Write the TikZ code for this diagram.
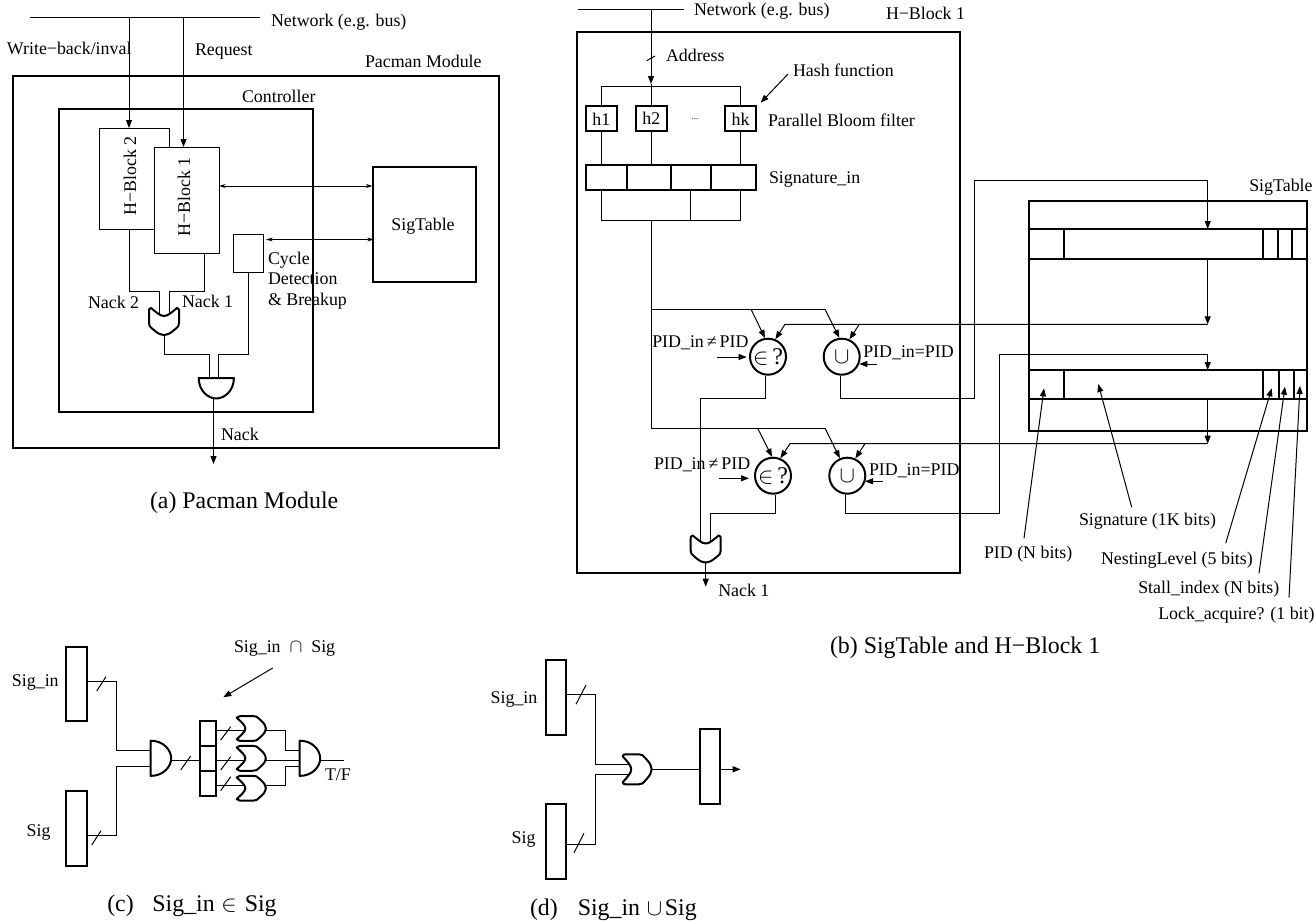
\documentclass[tikz,border=0pt]{standalone}
\usepackage{fontspec}
\setmainfont{Liberation Serif}
\usetikzlibrary{arrows.meta}
\newcommand{\pxbox}[6]{\node[#1,anchor=north west,inner sep=0pt,outer sep=0pt,minimum width={(#5-#3)*0.75pt},minimum height={(#6-#4)*0.75pt}] (#2) at (#3,#4) {};}
\tikzset{
  wire/.style={line width=0.75pt,line join=miter},
  arr/.style={wire,-{Stealth[length=6pt,width=4.5pt,inset=0pt]}},
  darr/.style={wire,{Stealth[open,length=5pt,width=3pt]}-{Stealth[open,length=5pt,width=3pt]}},
  thinbox/.style={draw,line width=0.75pt},
  thickbox/.style={draw,line width=1.5pt},
  whitebox/.style={draw,line width=0.75pt,fill=white},
  lab/.style={inner sep=0pt,outer sep=0pt,font=\fontsize{13.4}{16}\selectfont},
  captxt/.style={inner sep=0pt,outer sep=0pt,font=\fontsize{17.9}{22}\selectfont},
  opcircle/.style={circle,draw,line width=1.5pt,inner sep=0pt,minimum size=27pt,font=\fontsize{18}{20}\selectfont},
  gate/.style={line width=1.5pt,line join=round,fill=white},
  orgate/.pic={
    \draw[gate] (-15,3) -- (-15,15) .. controls (-15,18) .. (-9,23) .. controls (-5,26) .. (0,27) .. controls (5,26) .. (9,23) .. controls (15,18) .. (15,15) -- (15,3) .. controls (15,1) .. (13,0) .. controls (8,4) and (4,8) .. (0,8) .. controls (-4,8) and (-8,4) .. (-13,0) .. controls (-15,1) .. (-15,3) -- cycle;
    \coordinate (-a) at (-5,6);
    \coordinate (-b) at (5,6);
    \coordinate (-c) at (0,8);
    \coordinate (-out) at (0,27);
  },
  andgate/.pic={
    \draw[gate] (-17.6,0) -- (17.6,0) .. controls (17.6,13) and (8,20.5) .. (0,20.5) .. controls (-8,20.5) and (-17.6,13) .. (-17.6,0) -- cycle;
    \coordinate (-top) at (0,0);
    \coordinate (-out) at (0,20.5);
  }
}
\begin{document}
\begin{tikzpicture}[x=0.75pt,y=-0.75pt]
\useasboundingbox (0,0) rectangle (1315,921);

%% ---------- panel (a) ----------
\coordinate (netaL) at (30,17);
\coordinate (netaR) at (260,17);
\draw[wire] (netaL) -- (netaR);
\node[lab,anchor=west] (neta) at (271,22) {Network (e.g. bus)};
\node[lab,anchor=west] (wb) at (7,48) {Write−back/inval};
\node[lab,anchor=west] (req) at (195,51.5) {Request};
\node[lab,anchor=west] (pacl) at (365,61) {Pacman Module};
\node[lab,anchor=west] (ctll) at (242,96) {Controller};
\pxbox{thickbox}{pacman}{13}{76}{499}{448}
\pxbox{thickbox}{ctrl}{59}{109}{313}{412}
\pxbox{thinbox}{hbtwo}{99.5}{128}{169}{229}
\pxbox{whitebox}{hbone}{154}{147}{219}{253}
\node[lab,rotate=90] (hbtwol) at (130,176) {H−Block 2};
\node[lab,rotate=90] (hbonel) at (184,197) {H−Block 1};
\pxbox{thickbox}{sigt}{372.5}{167}{476}{282}
\node[lab] (sigtl) at (423,226) {SigTable};
\pxbox{thinbox}{cyc}{233.5}{234}{263.5}{272}
\node[lab,anchor=west] (cy1) at (268,260) {Cycle};
\node[lab,anchor=west] (cy2) at (268,279) {Detection};
\node[lab,anchor=west] (cy3) at (268,301) {\&\ Breakup};
\node[lab,anchor=west] (na2) at (88,302) {Nack 2};
\node[lab,anchor=west] (na1) at (182,301) {Nack 1};
\node[lab,anchor=west] (nack) at (221,434) {Nack};
\node[captxt,anchor=west] (capa) at (150,502.5) {(a) Pacman Module};
\pic (ora) at (164,308) {orgate};
\pic (anda) at (216.3,378) {andgate};
\draw[arr] (129,17) -- (129,0 |- hbtwo.north);
\draw[arr] (183.5,17) -- (183.5,0 |- hbone.north);
\draw[darr] (hbone.east |- 0,186) -- (sigt.west |- 0,186);
\draw[darr] (266,239.5) -- (374,239.5);
\draw[wire] (129.5,0 |- hbtwo.south) |- (159,291) -- (ora-a);
\draw[wire] (204,0 |- hbone.south) |- (169,291) -- (ora-b);
\draw[wire] (ora-out) |- (209,354) -- (209,0 |- anda-top);
\draw[wire] (cyc.south) |- (218.5,354) -- (218.5,0 |- anda-top);
\draw[arr] (213.5,0 |- anda-out) -- (213.5,464);

%% ---------- panel (b) ----------
\draw[wire] (578,9) -- (684,9);
\node[lab,anchor=west] (netb) at (694,11) {Network (e.g. bus)};
\node[lab,anchor=west] (hbt) at (886,13.5) {H−Block 1};
\pxbox{thickbox}{hblock}{577}{31.5}{959.5}{572.7}
\node[lab,anchor=west] (addr) at (666,55) {Address};
\node[lab,anchor=west] (hash) at (793,70) {Hash function};
\node[lab,anchor=west] (bloom) at (768,120) {Parallel Bloom filter};
\node[lab,anchor=west] (signin) at (769,179.5) {Signature\_in};
\pxbox{thickbox}{hone}{586}{105.7}{616.7}{130.7}
\pxbox{thickbox}{htwo}{636}{105.7}{666.7}{130.7}
\pxbox{thickbox}{hk}{725.3}{105.7}{756}{130.7}
\node[lab] (honet) at ([yshift=-1pt]hone.center) {h1};
\node[lab] (htwot) at (htwo.center) {h2};
\node[lab] (hkt) at ([yshift=-0.5pt]hk.center) {hk};
\node[inner sep=0pt,font=\fontsize{7}{8}\selectfont] (dots) at (695,119) {...};
\pxbox{thickbox}{sreg}{586}{165}{756}{190.3}
\foreach \x in {626.7,670.7,711}
  \draw[line width=1.5pt] (\x,0 |- sreg.north) -- (\x,0 |- sreg.south);
\draw[arr] (651,9) -- (651,84);
\draw[wire] (651,84) -- (651,0 |- htwo.north);
\draw[wire] (601.7,0 |- hone.north) |- (740.7,86) -- (740.7,0 |- hk.north);
\draw[wire] (646.7,60.7) -- (655,56);
\draw[arr] (788,74) -- (760.7,102.7);
\draw[wire] (601.7,0 |- hone.south) -- (601.7,0 |- sreg.north);
\draw[wire] (651,0 |- htwo.south) -- (651,0 |- sreg.north);
\draw[wire] (740.7,0 |- hk.south) -- (740.7,0 |- sreg.north);
\draw[wire] (601.7,0 |- sreg.south) |- (740.7,220) -- (740.7,0 |- sreg.south);
\draw[wire] (690.7,0 |- sreg.south) -- (690.7,220);
\node[opcircle] (elemone) at (768,356.7) {$\in$\,?};
\node[opcircle] (unionone) at (841.7,356.7) {$\cup$};
\node[opcircle] (elemtwo) at (773,475.7) {$\in$\,?};
\node[opcircle] (uniontwo) at (847.3,475.7) {$\cup$};
\node[lab,anchor=west] (pne1) at (652.3,343) {PID\_in\,≠\,PID};
\node[lab,anchor=west] (peq1) at (863.3,353) {PID\_in=PID};
\node[lab,anchor=west] (pne2) at (654,464.7) {PID\_in\,≠\,PID};
\node[lab,anchor=west] (peq2) at (869,470.7) {PID\_in=PID};
\node[lab,anchor=west] (nackone) at (718.3,590) {Nack 1};
\node[captxt,anchor=west] (capb) at (830,648) {(b) SigTable and H−Block 1};
\pic (orb) at (705.7,535.5) {orgate};
% SigTable
\node[lab,anchor=west] (stl) at (1249.3,187) {SigTable};
\pxbox{thickbox}{table}{1029}{200.7}{1307.3}{430.7}
\pxbox{thickbox}{rowone}{1029}{229}{1307.3}{259.3}
\pxbox{thickbox}{rowtwo}{1029}{370}{1307.3}{398.7}
\foreach \x in {1063.7,1263.3,1277.7,1292}
  \draw[line width=1.5pt] (\x,0 |- rowone.north) -- (\x,0 |- rowone.south);
\foreach \x in {1063.7,1263.3,1278.7,1294}
  \draw[line width=1.5pt] (\x,0 |- rowtwo.north) -- (\x,0 |- rowtwo.south);
% wires into circles
\draw[wire] (651,220) -- (651,428.3) -- (825,428.3);
\draw[wire] (651,309.3) -- (825,309.3);
\draw[arr] (751,309.3) -- (elemone.99);
\draw[arr] (825,309.3) -- (unionone.97);
\draw[arr] (757.7,428.3) -- (elemtwo.93);
\draw[arr] (825,428.3) -- (uniontwo.113);
\draw[arr] (1207.7,0 |- rowone.south) -- (1207.7,324.3);
\draw[arr] (1207.7,324.3) -- (785,324.3) -- (elemone.67);
\draw[arr] (859.3,324.3) -- (unionone.66);
\draw[arr] (1207.7,0 |- rowtwo.south) -- (1207.7,443.7);
\draw[arr] (1207.7,443.7) -- (790,443.7) -- (elemtwo.67);
\draw[arr] (865,443.7) -- (uniontwo.65);
\draw[arr] (716.7,357) -- (746.7,357);
\draw[arr] (876.7,364) -- (859.3,364);
\draw[arr] (719,478.3) -- (749,478.3);
\draw[arr] (882.7,481.3) -- (865,481.3);
\draw[wire] (765.7,0 |- elemone.south) |- (700.7,398.7) -- (orb-a);
\draw[wire] (775.7,0 |- elemtwo.south) |- (710.7,513.3) -- (orb-b);
\draw[arr] (840,0 |- unionone.south) |- (974.3,398.7) |- (1207.7,180) -- (1207.7,0 |- rowone.north);
\draw[arr] (845,0 |- uniontwo.south) |- (999.3,513.3) |- (1207.7,354) -- (1207.7,0 |- rowtwo.north);
\draw[arr] (orb-out) -- (705.7,586.7);
% field labels
\node[lab,anchor=west] (lpid) at (984,554.5) {PID (N bits)};
\node[lab,anchor=west] (lsig) at (1079,521.5) {Signature (1K bits)};
\node[lab,anchor=west] (lnest) at (1101,560.3) {NestingLevel (5 bits)};
\node[lab,anchor=west] (lstall) at (1138.3,589) {Stall\_index (N bits)};
\node[lab,anchor=west] (llock) at (1158.3,615.5) {Lock\_acquire? (1 bit)};
\draw[arr] (1024,538.3) -- (1044,388.3);
\draw[arr] (1131.7,507.3) -- (1098.3,384);
\draw[arr] (1225.7,543.3) -- (1271.7,388.3);
\draw[arr] (1259,573.3) -- (1285,386.7);
\draw[arr] (1289,597.7) -- (1300,386);

%% ---------- panel (c) ----------
\pxbox{thickbox}{csigin}{66}{646.7}{86.7}{721.3}
\pxbox{thickbox}{csig}{66}{790.7}{86.7}{865.7}
\node[lab,anchor=west] (lcsigin) at (12,683) {Sig\_in};
\node[lab,anchor=west] (lcsig) at (26.7,833) {Sig};
\pxbox{thickbox}{creg}{200}{721}{215.7}{796}
\draw[line width=1.5pt] (creg.west |- 0,745.7) -- (creg.east |- 0,745.7);
\draw[line width=1.5pt] (creg.west |- 0,771.3) -- (creg.east |- 0,771.3);
\pic[rotate=90] (andc) at (150.7,758.3) {andgate};
\pic[rotate=90,xscale=0.83,yscale=1.08] (orc1) at (236.7,728.5) {orgate};
\pic[rotate=90,xscale=0.83,yscale=1.08] (orc2) at (236.7,758.3) {orgate};
\pic[rotate=90,xscale=0.83,yscale=1.08] (orc3) at (236.7,788.2) {orgate};
\pic[rotate=90] (andd) at (299.7,758.3) {andgate};
\draw[wire] (csigin.east |- 0,681) -| (116,750) -- (andc-top |- 0,750);
\draw[wire] (csig.east |- 0,835.3) -| (116,766) -- (andc-top |- 0,766);
\draw[wire] (andc-out |- 0,760.7) -- (creg.west |- 0,760.7);
\draw[wire] (creg.east |- 0,730.7) -- (orc1-c |- 0,730.7);
\draw[wire] (creg.east |- 0,760.7) -- (orc2-c |- 0,760.7);
\draw[wire] (creg.east |- 0,785.7) -- (orc3-c |- 0,785.7);
\draw[wire] (orc1-out |- 0,730.7) -| (285,750.7) -- (andd-top |- 0,750.7);
\draw[wire] (orc2-out |- 0,760.7) -- (andd-top |- 0,760.7);
\draw[wire] (orc3-out |- 0,785.7) -| (285,766) -- (andd-top |- 0,766);
\draw[wire] (andd-out |- 0,760.7) -- (344.3,760.7);
\foreach \a/\b/\c/\d in {96.7/691/106/676.7, 91.7/845/101/830.7, 180.7/770/190.7/756, 220.7/740/230.7/726.7, 220.7/770/230.7/756.7, 220.7/790.7/230.7/776.7}
  \draw[wire] (\a,\b) -- (\c,\d);
\node[lab,anchor=west] (tf) at (325,775) {T/F};
\node[lab,anchor=west] (inter) at (234,649) {Sig\_in\ \ $\cap$\ \ Sig};
\draw[arr] (272.7,668) -- (223.3,697.3);
\node[captxt,anchor=west] (capc) at (107.3,905.5) {(c)\hspace{14pt}Sig\_in\hspace{5pt}$\in$\hspace{6pt}Sig};

%% ---------- panel (d) ----------
\pxbox{thickbox}{dsigin}{546}{660}{566.3}{735}
\pxbox{thickbox}{dsig}{546}{804}{566.3}{879}
\pxbox{thickbox}{dreg}{700}{729.3}{720.3}{804.3}
\node[lab,anchor=west] (ldsigin) at (490.7,699.5) {Sig\_in};
\node[lab,anchor=west] (ldsig) at (511.7,839.5) {Sig};
\pic[rotate=90,yscale=1.07] (ord) at (622.7,769.3) {orgate};
\draw[wire] (dsigin.east |- 0,694.7) -| (595.7,764.3) -- (ord-b);
\draw[wire] (dsig.east |- 0,844) -| (595.7,774.3) -- (ord-a);
\draw[wire] (ord-out) -- (dreg.west |- ord-out);
\draw[arr] (dreg.east |- ord-out) -- (740.7,769.3);
\draw[wire] (576,704.3) -- (586,685);
\draw[wire] (574,852.7) -- (584,833.3);
\node[captxt,anchor=west] (capd) at (530,910) {(d)\hspace{15pt}Sig\_in\hspace{5pt}$\cup$\hspace{2pt}Sig};
\end{tikzpicture}
\end{document}
